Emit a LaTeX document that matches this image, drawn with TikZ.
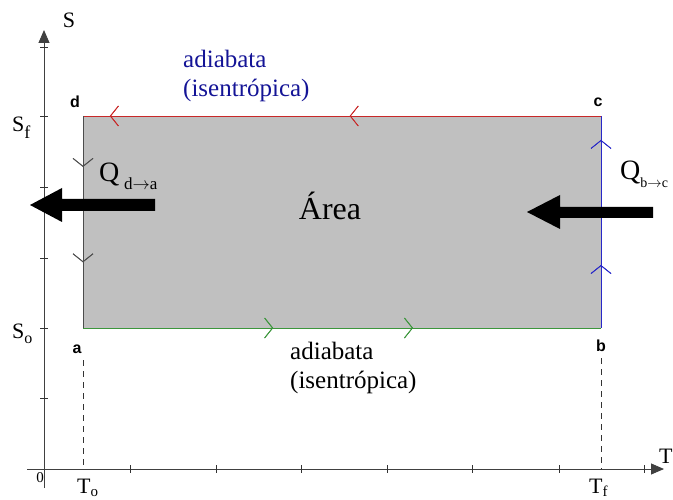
\documentclass[tikz,border=0pt]{standalone}
\usepackage{fontspec}
\setmainfont{Liberation Serif}
\newfontfamily\sansf{Liberation Sans}
\usetikzlibrary{arrows.meta,decorations.markings}
\definecolor{areagray}{RGB}{192,192,192}
\definecolor{redline}{RGB}{200,40,40}
\definecolor{blueline}{RGB}{40,40,200}
\definecolor{greenline}{RGB}{60,150,60}
\definecolor{navytext}{RGB}{20,20,150}
\tikzset{
  axisline/.style={line width=0.9pt, draw=black!75},
  axistip/.style={-{Triangle[length=13pt,width=11pt]}},
  tickmark/.style={line width=0.9pt, draw=black!80},
  edgeline/.style={line width=0.9pt},
  chev/.style={decoration={markings,
      mark=at position #1 with {\arrow{Straight Barb[length=8pt,width=20pt,line width=0.8pt]}}},
      postaction=decorate},
  corner/.style={font=\sansf\bfseries\fontsize{16}{16}\selectfont},
  ttext/.style={font=\fontsize{25}{29}\selectfont, align=left, inner sep=0pt},
  axlbl/.style={font=\fontsize{22}{22}\selectfont, inner sep=0pt},
  bigarrow/.style={fill=black, draw=none},
  dashline/.style={dashed, dash pattern=on 6pt off 5pt, line width=0.8pt, draw=black!80}
}
\begin{document}
\begin{tikzpicture}[x=1pt,y=-1pt]
\useasboundingbox (0,0) rectangle (673,500);
% corners
\coordinate (d) at (83,116);
\coordinate (c) at (601,116);
\coordinate (a) at (83,328);
\coordinate (b) at (601,328);
% area
\fill[areagray] (a) rectangle (c);
% axes
\coordinate (yb) at (44,488);
\coordinate (yt) at (44,30);
\coordinate (xl) at (27,469);
\coordinate (xr) at (664,469);
\draw[axisline,axistip] (yb) -- (yt);
\draw[axisline,axistip] (xl) -- (xr);
\foreach \yy in {47,116,187,258,328,398}
  \draw[tickmark] (40,\yy) -- (48,\yy);
\foreach \xx in {130,216,301,387,472,559,644}
  \draw[tickmark] (\xx,465) -- (\xx,473);
% edges
\draw[edgeline, draw=redline, chev=0.485, chev=0.948] (c) -- (d);
\draw[edgeline, draw=black!70, chev=0.24, chev=0.69] (d) -- (a);
\draw[edgeline, draw=greenline, chev=0.367, chev=0.637] (a) -- (b);
\draw[edgeline, draw=blueline, chev=0.297, chev=0.887] (b) -- (c);
% dashed projections
\coordinate (ta) at (83,469);
\coordinate (tb) at (601,469);
\draw[dashline] ([yshift=-32pt]a) -- (ta);
\draw[dashline] ([yshift=-30pt]b) -- (tb);
% corner labels
\node[corner] at (75,102) {d};
\node[corner] at (598,102) {c};
\node[corner] at (77,349) {a};
\node[corner] at (601,346) {b};
% axis labels
\node[axlbl] at (69,20) {S};
\node[axlbl, anchor=base west] at (12,132) {S\raisebox{-7pt}{\fontsize{18}{18}\selectfont f}};
\node[axlbl, anchor=base west] at (12,338) {S\raisebox{-5pt}{\fontsize{16}{16}\selectfont o}};
\node[font=\fontsize{15}{15}\selectfont, inner sep=0pt] at (40,478) {0};
\node[axlbl, anchor=base west] at (77,493) {T\raisebox{-3pt}{\fontsize{15}{15}\selectfont o}};
\node[axlbl, anchor=base west] at (589,493) {T\raisebox{-3pt}{\fontsize{15}{15}\selectfont f}};
\node[axlbl, anchor=base west] at (659,463) {T};
% process texts
\node[ttext, text=navytext, anchor=north west] at (183,50) {adiabata\\(isentrópica)};
\node[ttext, anchor=north west] at (290,342) {adiabata\\(isentrópica)};
\node[font=\fontsize{32}{32}\selectfont, inner sep=0pt, anchor=base] at (330,220) {Área};
% heat arrows
\fill[bigarrow] (155,199) -- (62,199) -- (62,188) -- (30,205) -- (62,222) -- (62,211) -- (155,211) -- cycle;
\fill[bigarrow] (653,207) -- (560,207) -- (560,195) -- (527,212) -- (560,229) -- (560,218) -- (653,218) -- cycle;
\node[font=\fontsize{28}{28}\selectfont, inner sep=0pt, anchor=base west] at (99,182) {Q\,\raisebox{-8pt}{\fontsize{17}{17}\selectfont d$\rightarrow$a}};
\node[font=\fontsize{28}{28}\selectfont, inner sep=0pt, anchor=base west] at (620,180) {Q\raisebox{-8pt}{\fontsize{14}{14}\selectfont b$\rightarrow$c}};
\end{tikzpicture}
\end{document}
